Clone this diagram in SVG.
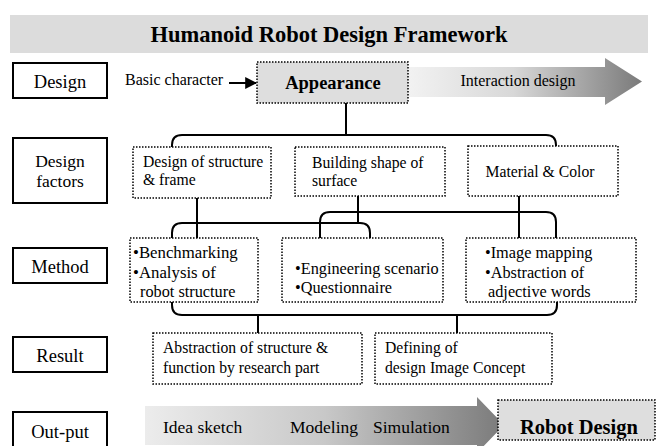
<svg xmlns="http://www.w3.org/2000/svg" width="657" height="446" viewBox="0 0 657 446">
<defs>
<linearGradient id="g1" x1="408" y1="0" x2="642" y2="0" gradientUnits="userSpaceOnUse">
<stop offset="0" stop-color="#f2f2f2"/><stop offset="0.45" stop-color="#d8d8d8"/><stop offset="1" stop-color="#7a7a7a"/>
</linearGradient>
<linearGradient id="g2" x1="145" y1="0" x2="505" y2="0" gradientUnits="userSpaceOnUse">
<stop offset="0" stop-color="#ececec"/><stop offset="0.5" stop-color="#c8c8c8"/><stop offset="1" stop-color="#7a7a7a"/>
</linearGradient>
<marker id="ah" viewBox="0 0 10 10" refX="9" refY="5" markerWidth="6" markerHeight="6" orient="auto" markerUnits="strokeWidth">
<path d="M0,0 L10,5 L0,10 z" fill="#000"/>
</marker>
</defs>
<style>
text{font-family:"Liberation Serif","Times New Roman",serif;fill:#000}
.lbl{fill:#fff;stroke:#000;stroke-width:2}
.dot{fill:#fff;stroke:#000;stroke-width:1.5;stroke-dasharray:1.5 1.5}
.dotg{fill:#dedede;stroke:#000;stroke-width:1.5;stroke-dasharray:1.5 1.5}
.lt{font-size:18.5px;text-anchor:middle}
.bt{font-size:15.7px}
.mt{font-size:16.3px}
.conn{fill:none;stroke:#000;stroke-width:2}
</style>
<rect width="657" height="446" fill="#fff"/>
<g id="header">
<rect x="10" y="15" width="638" height="38" fill="#dcdcdc"/>
<text x="329" y="42" font-size="22.5" font-weight="bold" text-anchor="middle">Humanoid Robot Design Framework</text>
</g>
<g id="label-design"><rect class="lbl" x="13" y="63" width="94" height="35"/><text class="lt" x="60" y="88" font-size="19.5">Design</text></g>
<g id="label-factors"><rect class="lbl" x="13" y="138" width="94" height="65"/><text class="lt" x="60" y="167" style="font-size:17.5px">Design</text><text class="lt" x="60" y="187" style="font-size:17.5px">factors</text></g>
<g id="label-method"><rect class="lbl" x="13" y="248" width="94" height="35"/><text class="lt" x="60" y="273">Method</text></g>
<g id="label-result"><rect class="lbl" x="13" y="337" width="94" height="35"/><text class="lt" x="60" y="362">Result</text></g>
<g id="label-output"><rect class="lbl" x="13" y="412" width="94" height="35"/><text class="lt" x="60" y="438">Out-put</text></g>
<g id="basic-character"><text x="125" y="85" font-size="16">Basic character</text></g>
<g id="interaction">
<path d="M408,67 L605,67 L605,58 L642,81.5 L605,105 L605,97 L408,97 z" fill="url(#g1)"/>
<text x="518" y="86" font-size="16" text-anchor="middle">Interaction design</text>
</g>
<g id="appearance"><rect class="dotg" x="257" y="62" width="151" height="41"/><text x="333" y="89" font-size="18.5" font-weight="bold" text-anchor="middle">Appearance</text></g>
<g id="structure"><rect class="dot" x="133" y="147" width="138" height="51"/><text class="bt" x="143" y="167">Design of structure</text><text class="bt" x="143" y="185">&amp; frame</text></g>
<g id="shape"><rect class="dot" x="295" y="147" width="150" height="49"/><text class="bt" x="312" y="168">Building shape of</text><text class="bt" x="312" y="186">surface</text></g>
<g id="material"><rect class="dot" x="468" y="146" width="150" height="50"/><text class="bt" x="540" y="177" text-anchor="middle">Material &amp; Color</text></g>
<g id="bench"><rect class="dot" x="130" y="238" width="128" height="64"/><text class="mt" x="133" y="258" style="font-size:16.8px">•Benchmarking</text><text class="mt" x="133" y="278" style="font-size:16.8px">•Analysis of</text><text class="mt" x="140" y="297">robot structure</text></g>
<g id="engineering"><rect class="dot" x="282" y="238" width="161" height="64"/><text class="mt" x="295" y="274">•Engineering scenario</text><text class="mt" x="295" y="293">•Questionnaire</text></g>
<g id="imagemap"><rect class="dot" x="466" y="238" width="170" height="64"/><text class="mt" x="485" y="258">•Image mapping</text><text class="mt" x="485" y="278">•Abstraction of</text><text class="mt" x="488" y="297">adjective words</text></g>
<g id="abstraction"><rect class="dot" x="153" y="333" width="209" height="51"/><text class="bt" x="163" y="353">Abstraction of structure &amp;</text><text class="bt" x="163" y="373">function by research part</text></g>
<g id="defining"><rect class="dot" x="375" y="333" width="177" height="51"/><text class="bt" x="385" y="353">Defining of</text><text class="bt" x="385" y="373">design Image Concept</text></g>
<g id="output-arrow">
<path d="M145,406 L477,406 L477,397 L504,425 L477,453 L477,445 L145,445 z" fill="url(#g2)"/>
<text x="163" y="433" font-size="17.5">Idea sketch</text>
<text x="290" y="433" font-size="17.5">Modeling</text>
<text x="373" y="433" font-size="17.5">Simulation</text>
</g>
<g id="robot-design"><rect class="dotg" x="498" y="400" width="157" height="40"/><text x="579" y="434" font-size="20.5" font-weight="bold" text-anchor="middle">Robot Design</text></g>
<g id="connectors">
<line x1="229" y1="83" x2="256" y2="83" stroke="#000" stroke-width="2" marker-end="url(#ah)"/>
<line class="conn" x1="346" y1="103" x2="346" y2="135"/>
<path class="conn" d="M172,147 L172,145 Q172,135 182,135 L546,135 Q556,135 556,145 L556,146"/>
<line class="conn" x1="197" y1="198" x2="197" y2="238"/>
<line class="conn" x1="358" y1="196" x2="358" y2="223"/>
<line class="conn" x1="519" y1="196" x2="519" y2="238"/>
<path class="conn" d="M172,238 L172,233 Q172,223 182,223 L360,223 Q370,223 370,233 L370,238"/>
<path class="conn" d="M320,238 L320,222 Q320,212 330,212 L546,212 Q556,212 556,222 L556,238"/>
<path class="conn" d="M172,302 L172,305 Q172,315 182,315 L547,315 Q557,315 557,305 L557,302"/>
<line class="conn" x1="258" y1="315" x2="258" y2="333"/>
<line class="conn" x1="457" y1="315" x2="457" y2="333"/>
</g>
</svg>
